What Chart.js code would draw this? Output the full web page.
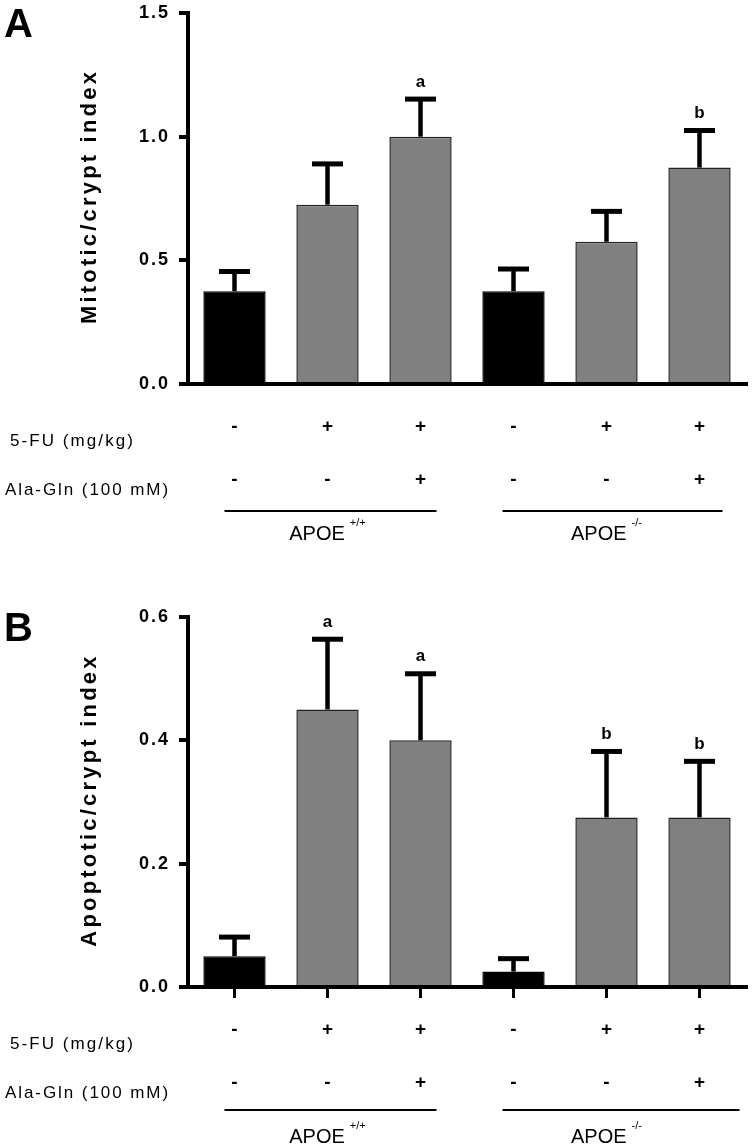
<!DOCTYPE html>
<html>
<head>
<meta charset="utf-8">
<script src="https://cdn.jsdelivr.net/npm/chart.js@4.4.1/dist/chart.umd.min.js"></script>
<style>
  body { margin: 0; background: #fff; }
  .panel { position: absolute; left: 0; width: 754px; }
  #panelA { top: 0; height: 560px; }
  #panelB { top: 560px; height: 588px; }
</style>
</head>
<body>
<div class="panel" id="panelA"><canvas id="chartA" width="754" height="560"></canvas></div>
<div class="panel" id="panelB"><canvas id="chartB" width="754" height="588"></canvas></div>
<script>
// groups: APOE+/+ then APOE-/-, each control / 5-FU / 5-FU + Ala-Gln
const categories = ['WT ctrl', 'WT 5-FU', 'WT 5-FU+AG', 'KO ctrl', 'KO 5-FU', 'KO 5-FU+AG'];
const fuSigns = ['-', '+', '+', '-', '+', '+'];
const alaSigns = ['-', '-', '+', '-', '-', '+'];
const groupNames = ['APOE', 'APOE'];
const groupSups = ['+/+', '-/-'];
const barColors = ['#000000', '#808080', '#808080', '#000000', '#808080', '#808080'];
const barBorders = ['#000000', '#222222', '#222222', '#000000', '#222222', '#222222'];

const mitoticMean = [0.375, 0.725, 1.0, 0.375, 0.575, 0.875];
const mitoticSem = [0.09, 0.175, 0.162, 0.1, 0.133, 0.16];
const mitoticLetters = ['', '', 'a', '', '', 'b'];
const mitoticTicks = [0, 0.5, 1.0, 1.5];

const apoptoticMean = [0.05, 0.45, 0.40, 0.025, 0.275, 0.275];
const apoptoticSem = [0.035, 0.118, 0.112, 0.025, 0.111, 0.095];
const apoptoticLetters = ['', 'a', 'a', '', 'b', 'b'];
const apoptoticTicks = [0, 0.2, 0.4, 0.6];

const FONT = "'Liberation Sans', Arial, sans-serif";
Chart.defaults.font.family = FONT;
Chart.defaults.color = '#000';

// spread text so it fills a given width (the original uses a loose narrow face)
function spacedText(ctx, text, x, y, width) {
  ctx.letterSpacing = '0px';
  const w = ctx.measureText(text).width;
  ctx.letterSpacing = Math.max(0, (width - w) / text.length) + 'px';
  ctx.fillText(text, x, y);
  ctx.letterSpacing = '0px';
}

// draws error bars, letters, panel letter, axis title and the +/- table
function makeExtras(cfg) {
  return {
    id: 'extras',
    beforeDraw(chart) {
      chart.ctx.letterSpacing = '2px';
    },
    afterDatasetsDraw(chart) {
      const ctx = chart.ctx;
      const y = chart.scales.y;
      const bars = chart.getDatasetMeta(0).data;
      ctx.save();
      ctx.letterSpacing = '0px';
      ctx.strokeStyle = '#000';
      bars.forEach((bar, i) => {
        const top = y.getPixelForValue(cfg.means[i] + cfg.errs[i]);
        ctx.lineWidth = 4.5;
        ctx.beginPath();
        ctx.moveTo(bar.x, bar.y);
        ctx.lineTo(bar.x, top + 2);
        ctx.stroke();
        ctx.lineWidth = 5;
        ctx.beginPath();
        ctx.moveTo(bar.x - 15.5, top + 2.5);
        ctx.lineTo(bar.x + 15.5, top + 2.5);
        ctx.stroke();
        if (cfg.letters[i]) {
          ctx.font = 'bold 17px ' + FONT;
          ctx.fillStyle = '#000';
          ctx.textAlign = 'center';
          ctx.textBaseline = 'alphabetic';
          ctx.fillText(cfg.letters[i], bar.x, top - 10);
        }
      });
      ctx.restore();
    },
    afterDraw(chart) {
      const ctx = chart.ctx;
      const area = chart.chartArea;
      const x = chart.scales.x;
      const base = area.bottom;
      ctx.save();
      ctx.fillStyle = '#000';
      ctx.strokeStyle = '#000';

      // panel letter
      ctx.letterSpacing = '0px';
      ctx.font = 'bold 40px ' + FONT;
      ctx.textAlign = 'left';
      ctx.textBaseline = 'alphabetic';
      ctx.fillText(cfg.panel, 4, cfg.panelY);

      // y axis title
      ctx.save();
      ctx.translate(90, (area.top + area.bottom) / 2);
      ctx.rotate(-Math.PI / 2);
      ctx.letterSpacing = '3.2px';
      ctx.font = 'bold 22px ' + FONT;
      ctx.textAlign = 'center';
      ctx.textBaseline = 'middle';
      ctx.fillText(cfg.title, 2, 0);
      ctx.restore();

      // treatment rows
      ctx.font = 'bold 19px ' + FONT;
      ctx.letterSpacing = '0px';
      ctx.textAlign = 'center';
      ctx.textBaseline = 'middle';
      fuSigns.forEach((s, i) => ctx.fillText(s, x.getPixelForValue(i), base + 43));
      alaSigns.forEach((s, i) => ctx.fillText(s, x.getPixelForValue(i), base + 96));

      ctx.font = '17px ' + FONT;
      ctx.textAlign = 'left';
      spacedText(ctx, '5-FU (mg/kg)', 10, base + 57, 125);
      spacedText(ctx, 'Ala-Gln (100 mM)', 5, base + 106, 165);

      // group lines and names
      ctx.lineWidth = 2;
      cfg.groupLines.forEach((g, k) => {
        const x0 = x.getPixelForValue(k * 3) + g[0];
        const x1 = x.getPixelForValue(k * 3 + 2) + g[1];
        ctx.beginPath();
        ctx.moveTo(x0, base + cfg.lineY);
        ctx.lineTo(x1, base + cfg.lineY);
        ctx.stroke();
        const cx = (x.getPixelForValue(k * 3) + x.getPixelForValue(k * 3 + 2)) / 2;
        ctx.font = '20px ' + FONT;
        const w = ctx.measureText(groupNames[k]).width;
        ctx.font = '11px ' + FONT;
        const ws = ctx.measureText(groupSups[k]).width;
        const left = cx - (w + 5 + ws) / 2;
        ctx.textAlign = 'left';
        ctx.textBaseline = 'alphabetic';
        ctx.font = '20px ' + FONT;
        ctx.fillText(groupNames[k], left, base + 156);
        ctx.font = '11px ' + FONT;
        ctx.fillText(groupSups[k], left + w + 5, base + 142);
      });
      ctx.restore();
    }
  };
}

function makePanel(id, means, errs, letters, ticks, cfg) {
  return new Chart(document.getElementById(id), {
    type: 'bar',
    data: {
      labels: categories,
      datasets: [{
        data: means,
        backgroundColor: barColors,
        borderColor: barBorders,
        borderWidth: 1.5,
        barPercentage: 0.67,
        categoryPercentage: 1
      }]
    },
    options: {
      responsive: false,
      animation: false,
      devicePixelRatio: 1,
      layout: { padding: { left: 0, right: 8, top: cfg.padTop, bottom: 0 } },
      plugins: { legend: { display: false }, tooltip: { enabled: false } },
      scales: {
        x: {
          afterFit: s => { s.height = cfg.xHeight; },
          ticks: { display: false },
          border: { display: true, width: 4, color: '#000' },
          grid: {
            display: cfg.xTicks,
            offset: false,
            drawOnChartArea: false,
            drawTicks: true,
            tickLength: 11,
            tickWidth: 3,
            lineWidth: 3,
            tickColor: '#000',
            color: '#000'
          }
        },
        y: {
          min: ticks[0],
          max: ticks[ticks.length - 1],
          afterFit: s => {
            s.width = 188;
            s.paddingTop = 0;
            s.paddingBottom = 0;
          },
          afterBuildTicks: s => { s.ticks = ticks.map(v => ({ value: v })); },
          border: { display: true, width: 4, color: '#000' },
          grid: {
            drawOnChartArea: false,
            drawTicks: true,
            tickLength: 9,
            tickWidth: 4,
            lineWidth: 4,
            tickColor: '#000',
            color: '#000'
          },
          ticks: {
            padding: 9,
            color: '#000',
            font: { size: 18, weight: 'bold' },
            callback: v => Number(v).toFixed(1)
          }
        }
      }
    },
    plugins: [makeExtras(Object.assign({ means: means, errs: errs, letters: letters }, cfg))]
  });
}

makePanel('chartA', mitoticMean, mitoticSem, mitoticLetters, mitoticTicks, {
  padTop: 13, xHeight: 176, xTicks: false,
  panel: 'A', panelY: 37, title: 'Mitotic/crypt index',
  lineY: 127, groupLines: [[-10, 16], [-11, 23]]
});

makePanel('chartB', apoptoticMean, apoptoticSem, apoptoticLetters, apoptoticTicks, {
  padTop: 57, xHeight: 161, xTicks: true,
  panel: 'B', panelY: 81, title: 'Apoptotic/crypt index',
  lineY: 123, groupLines: [[-10, 16], [-11, 40]]
});
</script>
</body>
</html>
